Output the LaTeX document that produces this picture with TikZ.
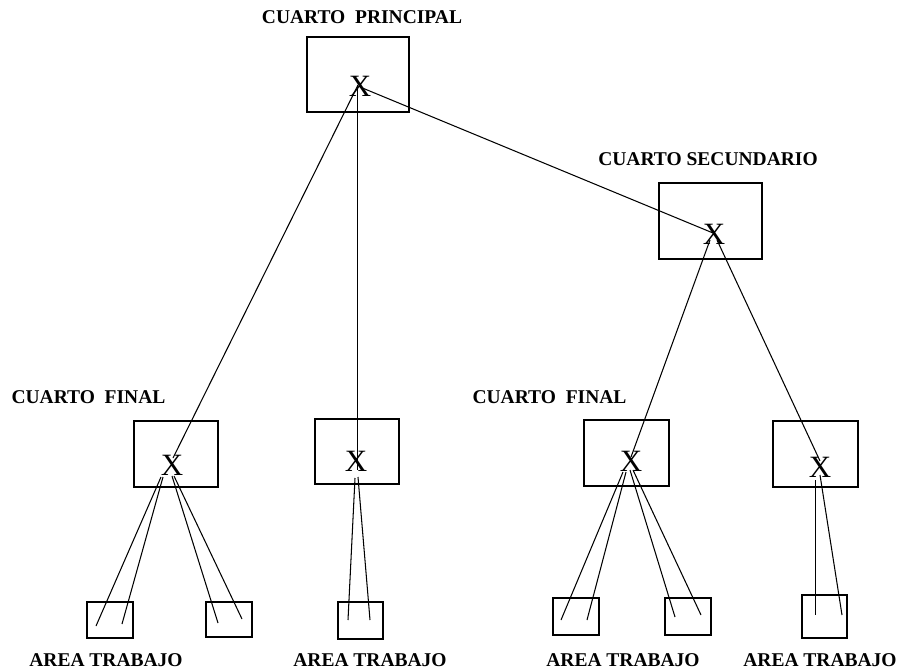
\documentclass[tikz,border=0pt]{standalone}
\usepackage{fontspec}
\setmainfont{Liberation Serif}
\begin{document}
\begin{tikzpicture}[x=1pt,y=-1pt,
  room/.style={draw,line width=1.2pt},
  lbl/.style={font=\fontsize{19.5}{22}\selectfont\bfseries,inner sep=0pt},
  xmark/.style={font=\fontsize{31}{34}\selectfont,inner sep=0pt},
  wire/.style={line width=1.05pt}]
\useasboundingbox (0,0) rectangle (901,671);
% rooms
\draw[room] (307,37) rectangle (409,112);
\draw[room] (659,183) rectangle (762,259);
\draw[room] (134,421) rectangle (218,487);
\draw[room] (315,419) rectangle (399,484);
\draw[room] (584,420) rectangle (669,486);
\draw[room] (773,421) rectangle (858,487);
% work areas
\draw[room] (87,602) rectangle (133,638);
\draw[room] (206,602) rectangle (252,637);
\draw[room] (338,602) rectangle (383,639);
\draw[room] (553,598) rectangle (599,635);
\draw[room] (665,598) rectangle (711,635);
\draw[room] (802,595) rectangle (847,638);
% labels
\node[lbl] (lp) at (362,17) {CUARTO~~PRINCIPAL};
\node[lbl] (ls) at (708,159) {CUARTO SECUNDARIO};
\node[lbl] (lf1) at (88.5,397) {CUARTO~~FINAL};
\node[lbl] (lf2) at (549.5,397) {CUARTO~~FINAL};
\node[lbl] (la1) at (106,660) {AREA TRABAJO};
\node[lbl] (la2) at (370,660) {AREA TRABAJO};
\node[lbl] (la3) at (623,660) {AREA TRABAJO};
\node[lbl] (la4) at (820,660) {AREA TRABAJO};
% X marks
\node[xmark] (xp) at (360,86) {X};
\node[xmark] (xs) at (714,234) {X};
\node[xmark] (xf1) at (172,465) {X};
\node[xmark] (xm) at (356,461) {X};
\node[xmark] (xf2) at (631,461) {X};
\node[xmark] (xf3) at (820,467) {X};
% connector end points
\coordinate (p1) at (358,85);
\coordinate (p2) at (357.5,85);
\coordinate (p3) at (360,87);
\coordinate (f1in) at (173,458);
\coordinate (min) at (357.5,470);
\coordinate (sin) at (713,233);
\coordinate (s1) at (710,240);
\coordinate (s2) at (717,240);
\coordinate (f2in) at (631,457);
\coordinate (f3in) at (820,461);
\coordinate (a1) at (161,477); \coordinate (b1) at (96,626);
\coordinate (a2) at (163,477); \coordinate (b2) at (122,624);
\coordinate (a3) at (172,476); \coordinate (b3) at (218,623);
\coordinate (a4) at (174,476); \coordinate (b4) at (242,619);
\coordinate (a5) at (355,478); \coordinate (b5) at (348,620);
\coordinate (a6) at (358,477); \coordinate (b6) at (370,620);
\coordinate (a7) at (623,472); \coordinate (b7) at (561,620);
\coordinate (a8) at (626,472); \coordinate (b8) at (587,620);
\coordinate (a9) at (630,470); \coordinate (b9) at (675,617);
\coordinate (a10) at (633,470); \coordinate (b10) at (701,615);
\coordinate (a11) at (815.5,480); \coordinate (b11) at (815.5,615);
\coordinate (a12) at (820,475); \coordinate (b12) at (842,615);
% connectors
\draw[wire] (p1) -- (f1in);
\draw[wire] (p2) -- (min);
\draw[wire] (p3) -- (sin);
\draw[wire] (s1) -- (f2in);
\draw[wire] (s2) -- (f3in);
\foreach \i in {1,...,12} { \draw[wire] (a\i) -- (b\i); }
\end{tikzpicture}
\end{document}
